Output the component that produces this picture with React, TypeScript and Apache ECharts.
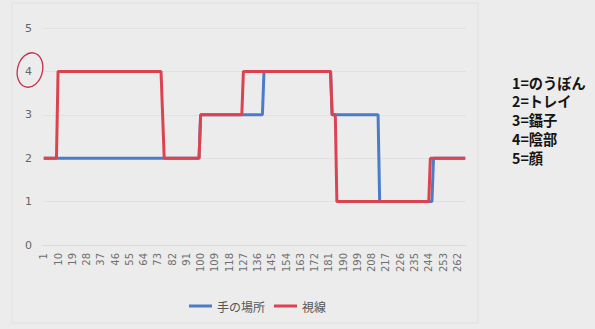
import React, { useEffect, useRef } from "react";
import * as echarts from "echarts";

// Category indices 1..267 (frames)
const categoryCount = 267;
const categories: string[] = Array.from({ length: categoryCount }, (_, i) => String(i + 1));

// Run-length data: [value, number of consecutive frames]
const handRuns: [number, number][] = [
  [2, 99], [3, 40], [4, 43], [3, 30], [1, 34], [2, 21],
];
const gazeRuns: [number, number][] = [
  [2, 9], [4, 66], [3, 1], [2, 23], [3, 27], [4, 56], [3, 3], [1, 59], [2, 23],
];

const seriesNames = ["手の場所", "視線"];
const legendNotes = ["1=のうぼん", "2=トレイ", "3=鑷子", "4=陰部", "5=顔"];

const expand = (runs: [number, number][]) => {
  const out: number[] = [];
  runs.forEach(([v, n]) => {
    for (let i = 0; i < n; i++) out.push(v);
  });
  return out;
};

const handData = expand(handRuns);
const gazeData = expand(gazeRuns);

export default function App() {
  const ref = useRef<HTMLDivElement>(null);
  useEffect(() => {
    document.body.style.margin = "0";
    document.body.style.background = "#ececec";
    if (!ref.current) return;
    const chart = echarts.init(ref.current, undefined, { renderer: "svg" });
    chart.setOption({
      animation: false,
      backgroundColor: "#ececec",
      grid: { left: 43, right: 129, top: 28, bottom: 84, containLabel: false },
      legend: {
        data: seriesNames,
        left: 184,
        top: 295,
        icon: "rect",
        itemWidth: 23,
        itemHeight: 3,
        itemGap: 9,
        textStyle: { color: "#555", fontSize: 12, fontFamily: "Noto Sans CJK JP" },
      },
      xAxis: {
        type: "category",
        data: categories,
        boundaryGap: true,
        axisLine: { show: true, lineStyle: { color: "#dadada", width: 1 } },
        axisTick: { show: false },
        axisLabel: {
          interval: 8,
          rotate: 90,
          color: "#707070",
          fontSize: 10,
          fontFamily: "DejaVu Sans",
          margin: 8,
        },
        splitLine: { show: false },
      },
      yAxis: {
        type: "value",
        min: 0,
        max: 5,
        interval: 1,
        axisLine: { show: false },
        axisTick: { show: false },
        axisLabel: { color: "#666", fontSize: 11, fontFamily: "DejaVu Sans", margin: 11 },
        splitLine: { show: true, lineStyle: { color: "#e1e1e1", width: 1 } },
      },
      series: [
        {
          name: seriesNames[0],
          type: "line",
          data: handData,
          showSymbol: false,
          symbol: "none",
          color: "#4a7cc9",
          lineStyle: { width: 3, color: "#4a7cc9" },
        },
        {
          name: seriesNames[1],
          type: "line",
          data: gazeData,
          showSymbol: false,
          symbol: "none",
          color: "#dc4350",
          lineStyle: { width: 3, color: "#dc4350" },
        },
      ],
      graphic: [
        {
          type: "rect",
          shape: { x: 12, y: 3, width: 466, height: 320 },
          style: { fill: "none", stroke: "#e0e0e0", lineWidth: 1 },
          silent: true,
        },
        {
          type: "ellipse",
          shape: { cx: 0, cy: 0, rx: 12.5, ry: 17.5 },
          x: 30,
          y: 70,
          rotation: -0.25,
          style: { fill: "none", stroke: "#c62f4e", lineWidth: 1.3 },
          silent: true,
        },
        ...legendNotes.map((t, i) => ({
          type: "text",
          x: 512,
          y: 82 + i * 18.8,
          scaleX: 0.95,
          style: {
            text: t,
            fill: "#151515",
            fontSize: 15,
            fontWeight: "bold",
            fontFamily: "Noto Sans CJK JP",
            verticalAlign: "middle",
            align: "left",
          },
          silent: true,
        })),
      ],
    });
    return () => chart.dispose();
  }, []);
  return (
    <div
      ref={ref}
      style={{ position: "fixed", left: 0, top: 0, width: 595, height: 329 }}
    />
  );
}
